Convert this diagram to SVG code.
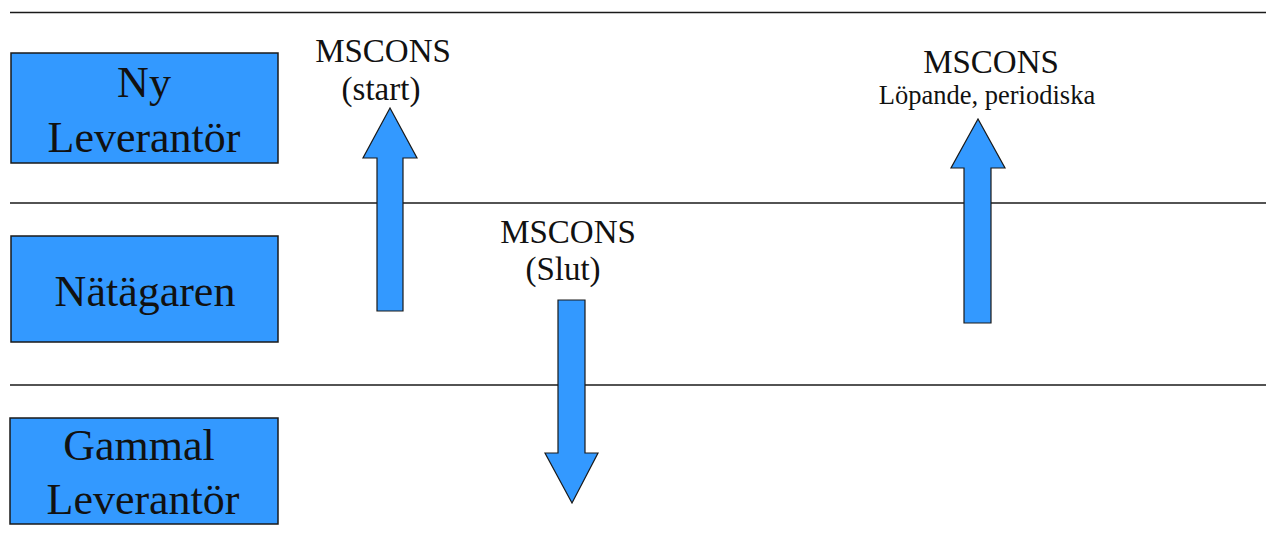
<svg xmlns="http://www.w3.org/2000/svg" width="1266" height="550" viewBox="0 0 1266 550">
<style>
.lane{stroke:#1a1a1a;stroke-width:1.6;fill:none}
.box{fill:#3399ff;stroke:#1a1a1a;stroke-width:1.5}
.arrow{fill:#3399ff;stroke:#1a1a1a;stroke-width:1.2;stroke-linejoin:miter}
.big{font-family:"Liberation Serif",serif;font-size:44px;fill:#111;text-anchor:middle}
.lbl{font-family:"Liberation Serif",serif;font-size:33px;fill:#111;text-anchor:middle}
.sm{font-family:"Liberation Serif",serif;font-size:26.5px;fill:#111;text-anchor:middle}
</style>
<rect width="1266" height="550" fill="#fff"/>
<g id="lanes">
<line class="lane" x1="10" y1="12.5" x2="1266" y2="12.5"/>
<line class="lane" x1="10" y1="203" x2="1266" y2="203"/>
<line class="lane" x1="10" y1="385" x2="1266" y2="385"/>
</g>
<g id="ny-leverantor">
<rect class="box" x="11" y="53" width="267" height="110"/>
<text class="big" x="144" y="97">Ny</text>
<text class="big" x="144" y="152">Leverantör</text>
</g>
<g id="natagaren">
<rect class="box" x="11" y="236" width="267" height="106"/>
<text class="big" x="145" y="306">Nätägaren</text>
</g>
<g id="gammal-leverantor">
<rect class="box" x="10" y="418" width="268" height="106"/>
<text class="big" x="139" y="460">Gammal</text>
<text class="big" x="143" y="514">Leverantör</text>
</g>
<g id="connectors">
<path class="arrow" d="M377,311 L377,158 L363,158 L390,108 L417,158 L403,158 L403,311 Z"/>
<path class="arrow" d="M558,300 L585,300 L585,453 L598,453 L572,503 L545,453 L558,453 Z"/>
<path class="arrow" d="M964,323 L964,168 L951,168 L978,119 L1005,168 L991,168 L991,323 Z"/>
</g>
<g id="labels">
<text class="lbl" x="383" y="62">MSCONS</text>
<text class="lbl" x="381" y="100">(start)</text>
<text class="lbl" x="568" y="243">MSCONS</text>
<text class="lbl" x="563" y="280">(Slut)</text>
<text class="lbl" x="991" y="73">MSCONS</text>
<text class="sm" x="987" y="104">Löpande, periodiska</text>
</g>
</svg>
